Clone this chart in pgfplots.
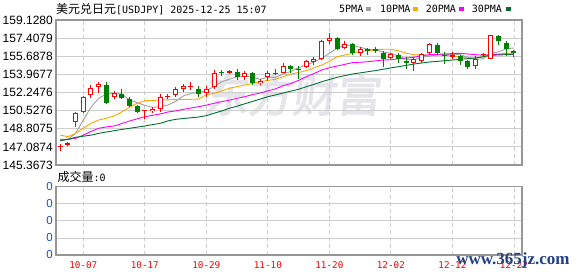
\documentclass[border=0pt]{standalone}
\usepackage{fontspec}
\setmainfont{Liberation Sans}
\newfontfamily\cjk{Noto Sans CJK SC}
\newfontfamily\cjkwm[FakeBold=2.5,FakeSlant=0.12]{Noto Sans CJK SC}
\newfontfamily\mono{DejaVu Sans Mono}
\newfontfamily\wmserif{Liberation Serif}
\usepackage{pgfplots}
\pgfplotsset{compat=1.18}
\usepackage{pgfplotstable}

\definecolor{candred}{RGB}{255,0,0}
\definecolor{candgreen}{RGB}{0,128,0}
\definecolor{ma5}{RGB}{160,160,160}
\definecolor{ma10}{RGB}{255,165,0}
\definecolor{ma20}{RGB}{255,0,255}
\definecolor{ma30}{RGB}{0,110,50}
\definecolor{framec}{RGB}{150,150,150}
\definecolor{gridc}{RGB}{205,205,205}
\definecolor{volblue}{RGB}{30,80,170}
\definecolor{wmgray}{RGB}{228,228,234}
\definecolor{wmblue}{RGB}{35,65,130}

% rising candles (red, hollow)
\pgfplotstableread{
i O H L C
0 147.05 147.36 146.70 147.17
1 147.29 147.57 147.17 147.48
2 149.48 150.40 149.00 150.27
3 150.40 151.92 150.27 151.79
4 151.98 152.93 151.73 152.65
5 152.77 153.24 152.17 153.05
7 151.85 152.42 151.66 152.23
11 150.46 150.59 149.70 150.59
12 150.46 150.84 150.27 150.72
13 150.65 152.10 150.40 151.85
14 151.79 152.10 151.60 151.92
15 151.98 152.74 151.85 152.55
16 152.61 153.05 152.30 152.86
17 152.74 153.24 152.49 152.86
19 152.17 152.86 151.79 152.61
20 152.74 154.38 152.61 154.07
22 154.07 154.35 154.00 154.26
24 153.69 154.32 153.43 154.13
26 153.12 153.56 152.93 153.37
27 153.75 154.32 153.37 154.07
28 154.00 154.45 153.88 154.13
29 154.13 155.02 154.07 154.76
32 154.64 155.33 154.57 155.21
33 155.14 155.65 154.83 155.40
34 155.46 157.23 155.33 157.11
35 157.17 157.92 156.85 157.42
37 156.47 157.10 156.35 156.85
39 156.03 156.60 155.71 156.35
43 155.52 156.03 155.40 155.90
46 155.08 155.59 154.32 155.40
47 155.21 156.03 155.02 155.90
48 155.97 156.97 155.84 156.85
51 155.65 156.09 155.46 155.84
54 154.76 155.71 154.51 155.46
55 155.78 155.97 155.65 155.84
56 155.46 157.73 155.40 157.67
}\redtab

% falling candles (green, filled)
\pgfplotstableread{
i O H L C
6 152.93 153.24 151.16 151.22
8 152.10 152.55 151.66 151.73
9 151.66 151.79 150.84 150.97
10 150.97 151.03 150.27 150.40
18 152.61 152.86 151.79 152.10
21 154.20 154.38 153.81 154.12
23 154.19 154.45 153.43 153.69
25 154.07 154.19 152.93 153.12
30 154.76 154.89 154.13 154.51
31 154.45 154.76 153.56 154.38
36 157.42 157.55 156.28 156.35
38 156.85 156.97 155.78 155.97
40 156.35 156.47 155.78 156.22
41 156.35 156.60 155.97 156.22
42 156.03 156.16 154.64 155.46
44 155.84 155.97 155.02 155.40
45 155.21 155.59 154.51 155.08
49 156.73 156.92 155.84 156.03
50 155.84 156.09 154.95 155.71
52 155.71 155.84 154.83 155.21
53 155.21 155.33 154.45 154.70
57 157.61 157.73 156.73 157.11
58 156.92 157.10 155.71 156.35
59 156.16 156.28 155.59 155.97
}\greentab

\pgfplotsset{
  ebar/.style 2 args={draw=none, mark=none, forget plot,
    error bars/.cd, y dir=plus, y explicit, error mark=none,
    error bar style={draw=#1, line width=#2}},
}

\begin{document}
\begin{tikzpicture}
\useasboundingbox (0pt,0pt) rectangle (578pt,-276pt);

% watermark
\node[anchor=center, inner sep=0pt, text=wmgray, font=\cjkwm\fontsize{44}{44}\selectfont] at (292pt,-95pt) {东方财富};

% title
\node[anchor=base west, inner sep=0pt] at (56pt,-13.3pt)
  {{\cjk\fontsize{12}{12}\selectfont 美元兑日元}{\mono\fontsize{10}{10}\selectfont [USDJPY] 2025-12-25 15:07}};

% legend
\node[anchor=base west, inner sep=0pt, font=\mono\fontsize{10}{10}\selectfont] at (339pt,-12.7pt) {5PMA};
\fill[ma5] (366pt,-6.7pt) rectangle (371pt,-10.7pt);
\node[anchor=base west, inner sep=0pt, font=\mono\fontsize{10}{10}\selectfont] at (380pt,-12.7pt) {10PMA};
\fill[ma10] (413pt,-6.7pt) rectangle (418pt,-10.7pt);
\node[anchor=base west, inner sep=0pt, font=\mono\fontsize{10}{10}\selectfont] at (425.7pt,-12.7pt) {20PMA};
\fill[ma20] (459pt,-6.7pt) rectangle (464pt,-10.7pt);
\node[anchor=base west, inner sep=0pt, font=\mono\fontsize{10}{10}\selectfont] at (471.7pt,-12.7pt) {30PMA};
\fill[ma30] (506pt,-6.7pt) rectangle (511pt,-10.7pt);

\begin{axis}[
  at={(56pt,-20pt)}, anchor=north west,
  width=466pt, height=145pt, scale only axis,
  xmin=-0.55, xmax=60.05, ymin=145.3673, ymax=159.128,
  axis line style={draw=framec, line width=1.2pt},
  tick style={draw=none},
  xtick={3,11,19,27,35,43,51,59}, xticklabels={},
  ytick={145.3673,147.0874,148.8075,150.5276,152.2476,153.9677,155.6878,157.4079,159.1280},
  yticklabels={145.3673,147.0874,148.8075,150.5276,152.2476,153.9677,155.6878,157.4079,159.1280},
  yticklabel style={font=\fontsize{12}{12}\selectfont, inner sep=0pt, xshift=-3pt, text=black},
  xmajorgrids, ymajorgrids,
  x grid style={draw=gridc, dash pattern=on 4pt off 3pt, line width=0.8pt},
  y grid style={draw=gridc, line width=0.8pt},
]
% moving averages
\addplot[color=ma5, line width=0.9pt, mark=none] coordinates {
(0,147.80)(1,147.80)(2,148.37)(3,149.64)(4,150.84)(5,151.70)(6,152.10)(7,152.17)(8,152.10)(9,151.54)
(10,151.28)(11,151.03)(12,150.84)(13,150.90)(14,151.06)(15,151.40)(16,151.92)(17,152.17)(18,152.23)(19,152.42)
(20,152.80)(21,153.27)(22,153.50)(23,153.75)(24,153.81)(25,153.69)(26,153.50)(27,153.69)(28,153.69)(29,154.00)
(30,154.25)(31,154.60)(32,154.86)(33,155.15)(34,155.49)(35,155.97)(36,156.44)(37,156.76)(38,156.72)(39,156.54)
(40,156.35)(41,156.30)(42,156.09)(43,155.97)(44,155.71)(45,155.40)(46,155.33)(47,155.59)(48,155.70)(49,155.84)
(50,155.84)(51,155.84)(52,155.84)(53,155.59)(54,155.40)(55,155.45)(56,155.97)(57,156.10)(58,156.40)(59,156.47)};
\addplot[color=ma10, line width=0.9pt, mark=none] coordinates {
(0,148.20)(1,148.06)(2,148.37)(3,148.85)(4,149.32)(5,149.64)(6,149.80)(7,150.02)(8,150.40)(9,150.84)
(10,151.22)(11,151.47)(12,151.50)(13,151.52)(14,151.55)(15,151.58)(16,151.60)(17,151.60)(18,151.62)(19,152.04)
(20,152.17)(21,152.40)(22,152.65)(23,152.80)(24,152.96)(25,153.10)(26,153.27)(27,153.40)(28,153.50)(29,153.75)
(30,154.00)(31,154.15)(32,154.32)(33,154.60)(34,154.86)(35,155.20)(36,155.65)(37,155.80)(38,155.97)(39,156.10)
(40,156.22)(41,156.30)(42,156.35)(43,156.35)(44,156.20)(45,155.97)(46,155.84)(47,155.80)(48,155.78)(49,155.78)
(50,155.78)(51,155.71)(52,155.65)(53,155.52)(54,155.52)(55,155.60)(56,155.84)(57,155.90)(58,155.97)(59,156.00)};
\addplot[color=ma20, line width=0.9pt, mark=none] coordinates {
(0,147.74)(1,147.80)(2,147.90)(3,148.20)(4,148.55)(5,148.85)(6,148.98)(7,149.07)(8,149.30)(9,149.54)
(10,149.75)(11,149.95)(12,150.08)(13,150.21)(14,150.40)(15,150.50)(16,150.65)(17,150.78)(18,150.90)(19,151.05)
(20,151.22)(21,151.38)(22,151.52)(23,151.70)(24,151.85)(25,152.05)(26,152.20)(27,152.40)(28,152.60)(29,152.90)
(30,153.10)(31,153.40)(32,153.75)(33,154.05)(34,154.38)(35,154.60)(36,154.76)(37,154.92)(38,155.08)(39,155.12)
(40,155.17)(41,155.25)(42,155.33)(43,155.36)(44,155.45)(45,155.52)(46,155.60)(47,155.72)(48,155.84)(49,155.87)
(50,155.90)(51,155.94)(52,155.97)(53,155.90)(54,155.84)(55,155.78)(56,155.84)(57,155.87)(58,155.90)(59,155.84)};
\addplot[color=ma30, line width=0.9pt, mark=none] coordinates {
(0,147.67)(1,147.80)(2,148.00)(3,148.10)(4,148.20)(5,148.37)(6,148.50)(7,148.62)(8,148.74)(9,148.85)
(10,148.96)(11,149.07)(12,149.20)(13,149.32)(14,149.55)(15,149.70)(16,149.78)(17,149.85)(18,149.92)(19,150.05)
(20,150.28)(21,150.50)(22,150.75)(23,150.95)(24,151.18)(25,151.40)(26,151.62)(27,151.85)(28,152.02)(29,152.20)
(30,152.38)(31,152.55)(32,152.80)(33,153.02)(34,153.27)(35,153.48)(36,153.69)(37,153.85)(38,154.00)(39,154.11)
(40,154.22)(41,154.33)(42,154.45)(43,154.58)(44,154.70)(45,154.82)(46,154.95)(47,155.05)(48,155.14)(49,155.20)
(50,155.27)(51,155.33)(52,155.40)(53,155.46)(54,155.52)(55,155.65)(56,155.78)(57,155.81)(58,155.84)(59,155.90)};

% wicks
\addplot[ebar={candred}{1pt}] table[x=i, y=L, y error plus expr={\thisrow{H}-\thisrow{L}}] {\redtab};
\addplot[ebar={candgreen}{1pt}] table[x=i, y=L, y error plus expr={\thisrow{H}-\thisrow{L}}] {\greentab};
% bodies
\addplot[ebar={candred}{5pt}] table[x=i, y=O, y error plus expr={max(\thisrow{C}-\thisrow{O},0.1)}] {\redtab};
\addplot[ebar={white}{3pt}] table[x=i, y expr={\thisrow{O}+0.095}, y error plus expr={max(\thisrow{C}-\thisrow{O}-0.19,0)}] {\redtab};
\addplot[ebar={candgreen}{5pt}] table[x=i, y=C, y error plus expr={max(\thisrow{O}-\thisrow{C},0.1)}] {\greentab};
\end{axis}

% volume label
\node[anchor=base west, inner sep=0pt] at (57.3pt,-181pt)
  {{\cjk\fontsize{12}{12}\selectfont 成交量}{\mono\fontsize{10}{10}\selectfont :0}};

\begin{axis}[
  at={(56pt,-186.7pt)}, anchor=north west,
  width=466pt, height=68.3pt, scale only axis,
  xmin=-0.55, xmax=60.05, ymin=0, ymax=4,
  axis line style={draw=framec, line width=1.2pt},
  tick style={draw=none},
  xtick={3,11,19,27,35,43,51,59},
  xticklabels={10-07,10-17,10-29,11-10,11-20,12-02,12-12,12-22},
  xticklabel style={font=\mono\fontsize{9.3}{9.3}\selectfont, text=candred, anchor=north, inner sep=0pt, yshift=-6pt},
  ytick={0,1,2,3,4}, yticklabels={0,0,0,0,0},
  yticklabel style={font=\fontsize{11.5}{11.5}\selectfont, inner sep=0pt, xshift=-3pt, text=volblue},
  xmajorgrids, ymajorgrids,
  x grid style={draw=gridc, dash pattern=on 4pt off 3pt, line width=0.8pt},
  y grid style={draw=gridc, line width=0.8pt},
]
\addplot[draw=none, mark=none, forget plot] coordinates {(0,0)};
\end{axis}

% site watermark
\node[anchor=center, inner sep=0pt, text=wmblue, font=\wmserif\bfseries\fontsize{17}{17}\selectfont] at (513pt,-260pt) {www.365jz.com};
\end{tikzpicture}
\end{document}
